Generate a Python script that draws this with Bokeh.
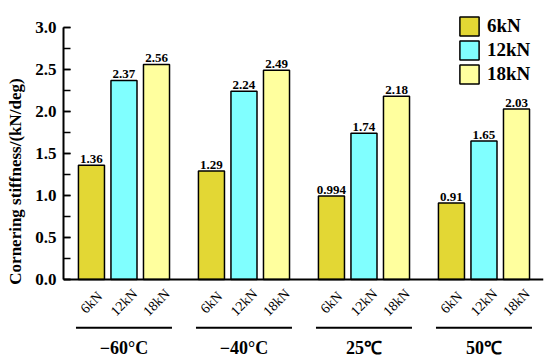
from bokeh.plotting import figure
from bokeh.models import (ColumnDataSource, Range1d, SingleIntervalTicker, Span, Legend,
                          LegendItem, NumeralTickFormatter)
from bokeh.core.properties import value
from bokeh.embed import file_html
from bokeh.resources import INLINE

temps = ["−60°C", "−40°C", "25℃", "50℃"]
loads = ["6kN", "12kN", "18kN"]
s6 = [1.36, 1.29, 0.994, 0.91]
s12 = [2.37, 2.24, 1.74, 1.65]
s18 = [2.56, 2.49, 2.18, 2.03]
series = [s6, s12, s18]
colors = ["#E3D734", "#80FFFF", "#FFFF9E"]

FONT = "Liberation Serif"
OFF = 0.271
BW = 0.217

p = figure(width=550, height=362, output_backend="svg", toolbar_location=None,
           x_range=Range1d(-0.504, 3.496), y_range=Range1d(-0.988, 3.321),
           x_axis_location=None, min_border_left=63, min_border_right=7,
           min_border_top=0, min_border_bottom=0)
p.outline_line_color = None
p.xgrid.visible = False
p.ygrid.visible = False
p.background_fill_color = "white"

renderers = []
for k, (vals, col, lab) in enumerate(zip(series, colors, loads)):
    xs = [g + (k - 1) * OFF for g in range(len(temps))]
    src = ColumnDataSource(dict(x=xs, top=vals, txt=[str(v) for v in vals]))
    r = p.vbar(x="x", top="top", width=BW, bottom=0, source=src,
               fill_color=col, line_color="black", line_width=1.5)
    renderers.append((lab, r))
    p.text(x="x", y="top", text="txt", source=src, text_align="center",
           text_baseline="bottom", y_offset=-2, text_font=value(FONT),
           text_font_style="bold", text_font_size="13px", text_color="black")
    # rotated category labels
    lsrc = ColumnDataSource(dict(x=xs, y=[-0.274] * len(xs), t=[lab] * len(xs)))
    p.text(x="x", y="y", text="t", source=lsrc, angle=45, angle_units="deg",
           text_align="center", text_baseline="middle", text_font=value(FONT),
           text_font_size="14px", text_color="black")

# group underlines and labels
gx = list(range(len(temps)))
p.segment(x0=[g - 0.4 for g in gx], x1=[g + 0.4 for g in gx], y0=[-0.575] * 4, y1=[-0.575] * 4,
          line_color="black", line_width=2)
gsrc = ColumnDataSource(dict(x=gx, y=[-0.81] * 4, t=temps))
p.text(x="x", y="y", text="t", source=gsrc, text_align="center", text_baseline="middle",
       text_font=value(FONT), text_font_style="bold", text_font_size="18px", text_color="black")

# x baseline
p.add_layout(Span(location=0, dimension="width", line_color="black", line_width=2))

# y axis
ax = p.yaxis[0]
ax.bounds = (0, 3)
ax.ticker = SingleIntervalTicker(interval=0.5, num_minor_ticks=2)
ax.formatter = NumeralTickFormatter(format="0.0")
ax.major_tick_in = 7
ax.major_tick_out = 0
ax.minor_tick_in = 7
ax.minor_tick_out = 0
ax.axis_line_width = 2
ax.major_tick_line_width = 1.5
ax.minor_tick_line_width = 1.5
ax.major_label_text_font = FONT
ax.major_label_text_font_style = "bold"
ax.major_label_text_font_size = "17px"
ax.major_label_text_color = "black"
ax.major_label_standoff = 7
ax.axis_label = "Cornering stiffness/(kN/deg)"
ax.axis_label_text_font = FONT
ax.axis_label_text_font_style = "bold"
ax.axis_label_text_font_size = "17px"
ax.axis_label_text_color = "black"
ax.axis_label_standoff = 7

legend = Legend(items=[LegendItem(label=lab, renderers=[r]) for lab, r in renderers],
                location=(394, 276), glyph_width=24, glyph_height=24, spacing=0,
                padding=0, margin=0, label_standoff=6, border_line_color=None,
                background_fill_alpha=0, label_text_font=FONT, label_text_font_style="bold",
                label_text_font_size="19px", label_text_color="black", label_height=24)
p.add_layout(legend, "center")

open("out.html", "w").write(file_html(p, INLINE))
